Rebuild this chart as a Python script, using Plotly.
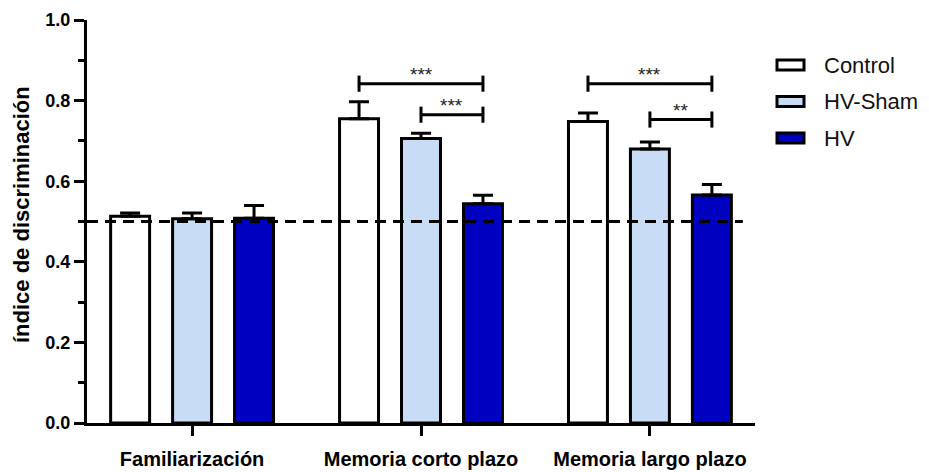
import plotly.graph_objects as go

# Discrimination index per phase and group (mean, SEM)
categories = ["Familiarización", "Memoria corto plazo", "Memoria largo plazo"]
groups = ["Control", "HV-Sham", "HV"]
control = [0.513, 0.755, 0.748]
control_err = [0.008, 0.042, 0.021]
sham = [0.507, 0.706, 0.680]
sham_err = [0.014, 0.013, 0.017]
hv = [0.508, 0.544, 0.566]
hv_err = [0.032, 0.021, 0.026]
fills = ["#FFFFFF", "#C8DCF5", "#0000C0"]

# Significance brackets: (phase index, from group, to group, height, label)
sig_phase = [1, 1, 2, 2]
sig_from = [0, 1, 0, 1]
sig_to = [2, 2, 2, 2]
sig_y = [0.842, 0.765, 0.842, 0.753]
sig_text = ["***", "***", "***", "**"]

chance_level = 0.5

FONT = "Liberation Sans, Arial, sans-serif"
BARGAP = 0.188
BARGROUPGAP = 0.371
slot = (1 - BARGAP) / 3  # distance between neighbouring bar centres
XR = [-0.459, 2.459]

fig = go.Figure()
series = [control, sham, hv]
errs = [control_err, sham_err, hv_err]
xs = list(range(len(categories)))
for name, vals, err, col in zip(groups, series, errs, fills):
    fig.add_trace(go.Bar(
        x=xs, y=vals, name=name, showlegend=False,
        marker=dict(color=col, line=dict(color="black", width=3)),
        error_y=dict(type="data", symmetric=False, array=err,
                     arrayminus=[0] * len(err), color="black",
                     thickness=3, width=10),
    ))

shapes = []
annotations = []

# chance line at 0.5
shapes.append(dict(type="line", xref="x", yref="y", x0=XR[0], x1=2.406,
                   y0=chance_level, y1=chance_level, layer="above",
                   line=dict(color="black", width=3, dash="11px,7px")))

# significance brackets
tick_h = 0.02
for p, a, b, y, t in zip(sig_phase, sig_from, sig_to, sig_y, sig_text):
    xa = p + (a - 1) * slot
    xb = p + (b - 1) * slot
    ln = dict(color="black", width=3)
    shapes.append(dict(type="line", xref="x", yref="y", x0=xa, x1=xb, y0=y, y1=y, line=ln))
    shapes.append(dict(type="line", xref="x", yref="y", x0=xa, x1=xa, y0=y - tick_h, y1=y + tick_h, line=ln))
    shapes.append(dict(type="line", xref="x", yref="y", x0=xb, x1=xb, y0=y - tick_h, y1=y + tick_h, line=ln))
    annotations.append(dict(x=(xa + xb) / 2, y=y, xref="x", yref="y", text=t,
                            showarrow=False, yanchor="bottom", yshift=-3,
                            font=dict(family=FONT, size=19, color="#222")))

# legend drawn as swatches + labels, in pixel offsets from the plot area
L, R, T, B = 87, 174, 20, 49
W, H = 929 - L - R, 472 - T - B
def px(x):
    return (x - L) / W
def py(y):
    return 1 - (y - T) / H

for i, (name, col) in enumerate(zip(groups, fills)):
    cy = 65 + i * 36.5
    shapes.append(dict(type="rect", xref="paper", yref="paper",
                       x0=px(777), x1=px(804), y0=py(cy - 5), y1=py(cy + 5),
                       fillcolor=col, line=dict(color="black", width=3)))
    annotations.append(dict(x=px(822), y=py(cy), xref="paper", yref="paper",
                            text=name, showarrow=False, xanchor="left", yanchor="middle",
                            font=dict(family=FONT, size=22, color="#111")))

# y-axis title
annotations.append(dict(x=px(21), y=py(215), xref="paper", yref="paper",
                        text="índice de discriminación", textangle=-90, showarrow=False,
                        xanchor="center", yanchor="middle",
                        font=dict(family=FONT, size=22, color="black", weight="bold")))

fig.update_layout(
    width=929, height=472,
    margin=dict(l=L, r=R, t=T, b=B),
    paper_bgcolor="white", plot_bgcolor="white",
    barmode="group", bargap=BARGAP, bargroupgap=BARGROUPGAP,
    shapes=shapes, annotations=annotations,
    showlegend=False,
)
fig.update_xaxes(
    range=XR, tickvals=xs, ticktext=categories, automargin=False,
    showline=True, linecolor="black", linewidth=3,
    ticks="outside", ticklen=10, tickwidth=3, tickcolor="black",
    showgrid=False, zeroline=False, ticklabelstandoff=6,
    tickfont=dict(family=FONT, size=20, color="black", weight="bold"),
)
fig.update_yaxes(
    range=[0, 1.0], dtick=0.2, tickformat=".1f", automargin=False,
    showline=True, linecolor="black", linewidth=3,
    ticks="outside", ticklen=10, tickwidth=3, tickcolor="black",
    minor=dict(dtick=0.1, ticks="outside", ticklen=6, tickwidth=3, tickcolor="black"),
    showgrid=False, zeroline=False,
    tickfont=dict(family=FONT, size=18, color="black", weight="bold"),
)

fig.write_html("out.html")
